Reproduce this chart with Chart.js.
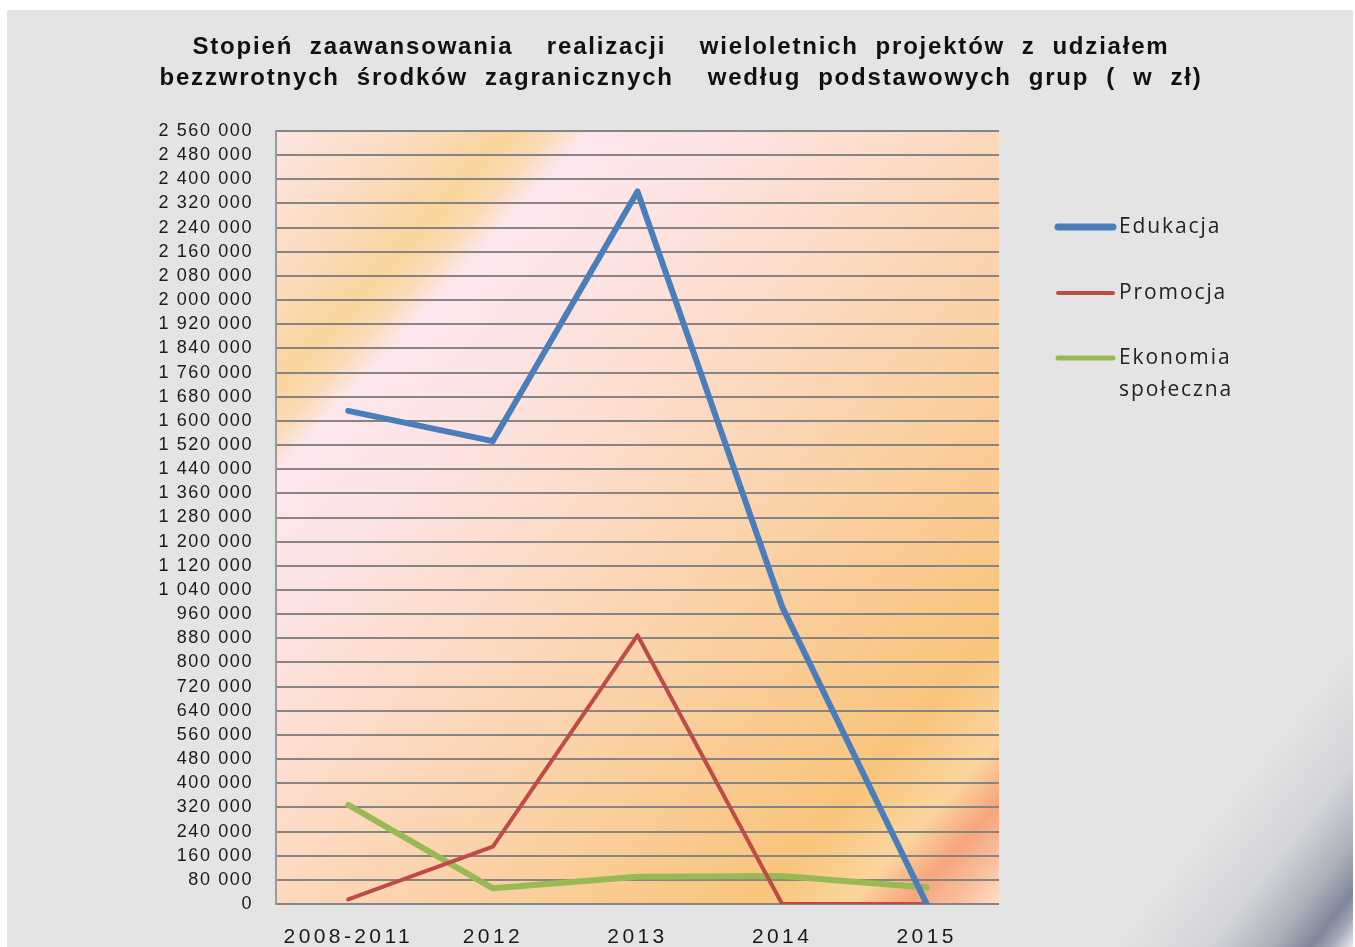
<!DOCTYPE html>
<html>
<head>
<meta charset="utf-8">
<script src="https://cdn.jsdelivr.net/npm/chart.js@4.4.0/dist/chart.umd.min.js"></script>
<style>
  html, body { margin: 0; padding: 0; background: #fff; overflow: hidden; }
  #chart { display: block; }
</style>
</head>
<body>
<canvas id="chart" width="1355" height="947"></canvas>
<script>
// data
const categories = ['2008-2011', '2012', '2013', '2014', '2015'];
const edukacja = [1633000, 1533000, 2360000, 985000, 0];
const promocja = [15000, 190000, 890000, 0, 0];
const ekonomia = [328000, 52000, 90000, 93000, 55000];
const yMax = 2560000;
const yStep = 80000;
const titleLines = [
  'Stopień zaawansowania  realizacji  wieloletnich projektów z udziałem',
  'bezzwrotnych środków zagranicznych  według podstawowych grup ( w zł)'
];

const fmt = v => String(v).replace(/\B(?=(\d{3})+(?!\d))/g, ' ');

// stretch a line to a given width: some letter spacing, the rest between words
function spacedText(ctx, text, cx, cy, targetW) {
  ctx.letterSpacing = '1.8px';
  ctx.wordSpacing = '0px';
  const w = ctx.measureText(text).width;
  const gaps = text.split(' ').length - 1;
  ctx.wordSpacing = Math.max(0, (targetW - w) / gaps) + 'px';
  ctx.textAlign = 'left';
  ctx.fillText(text, cx - targetW / 2, cy);
  ctx.letterSpacing = '0px';
  ctx.wordSpacing = '0px';
}

const decor = {
  id: 'decor',
  beforeDraw(chart) {
    const ctx = chart.ctx;
    const a = chart.chartArea;
    ctx.save();
    ctx.fillStyle = '#ffffff';
    ctx.fillRect(0, 0, chart.width, chart.height);
    ctx.fillStyle = '#e4e4e4';
    ctx.fillRect(7, 10, 1346, 937);

    // dark swoosh in the lower right corner
    const s = ctx.createLinearGradient(1190, 846, 1340, 965);
    s.addColorStop(0, '#e4e4e4');
    s.addColorStop(0.4, '#d3d5d9');
    s.addColorStop(0.65, '#adb1bb');
    s.addColorStop(0.82, '#7f879a');
    s.addColorStop(0.9, '#a3a8b6');
    s.addColorStop(1, '#eeeef2');
    ctx.fillStyle = s;
    ctx.fillRect(1010, 500, 343, 447);

    // plot area background
    const k = 2.696;
    const g = ctx.createLinearGradient(a.left, a.top, a.left + 289 * k, a.top + 264 * k);
    g.addColorStop(0, '#fde6e2');
    g.addColorStop(0.09, '#fbdcc2');
    g.addColorStop(0.165, '#fad59c');
    g.addColorStop(0.195, '#fbdcb8');
    g.addColorStop(0.22, '#fde7ee');
    g.addColorStop(0.32, '#fde3e2');
    g.addColorStop(0.5, '#fcd8bc');
    g.addColorStop(0.68, '#facd98');
    g.addColorStop(0.83, '#f9c57c');
    g.addColorStop(0.895, '#fbd59e');
    g.addColorStop(0.935, '#f7a57d');
    g.addColorStop(0.97, '#f9c0a0');
    g.addColorStop(1, '#fde0c6');
    ctx.fillStyle = g;
    ctx.fillRect(a.left, a.top, a.right - a.left, a.bottom - a.top);
    ctx.restore();

    // y tick labels are drawn before the datasets
    ctx.letterSpacing = '1.6px';
  },
  afterDatasetsDraw(chart) {
    // x tick labels are drawn after the datasets
    chart.ctx.letterSpacing = '3.4px';
  },
  afterDraw(chart) {
    const ctx = chart.ctx;
    ctx.save();
    ctx.letterSpacing = '0px';
    ctx.fillStyle = '#111';
    ctx.textBaseline = 'middle';
    ctx.font = 'bold 24px "Liberation Sans", Arial, sans-serif';
    spacedText(ctx, titleLines[0], 681, 47, 977);
    spacedText(ctx, titleLines[1], 681, 78, 1043);

    // legend
    const rows = [227, 293, 358];
    ctx.font = '21px "Open Sans", sans-serif';
    ctx.letterSpacing = '1.9px';
    ctx.textAlign = 'left';
    chart.data.datasets.forEach((ds, i) => {
      const y = rows[i];
      ctx.strokeStyle = ds.borderColor;
      ctx.lineWidth = ds.legendWidth;
      ctx.lineCap = 'round';
      ctx.beginPath();
      ctx.moveTo(1058, y);
      ctx.lineTo(1113, y);
      ctx.stroke();
      ctx.fillStyle = '#222';
      const words = ds.label.split(' ');
      words.forEach((w, j) => ctx.fillText(w, 1119, y + j * 32));
    });
    ctx.restore();
  }
};

new Chart(document.getElementById('chart'), {
  type: 'line',
  data: {
    labels: categories,
    datasets: [
      { label: 'Edukacja', data: edukacja, borderColor: '#4a7ebb', borderWidth: 6, legendWidth: 7 },
      { label: 'Promocja', data: promocja, borderColor: '#be4b48', borderWidth: 4, legendWidth: 4 },
      { label: 'Ekonomia społeczna', data: ekonomia, borderColor: '#98b954', borderWidth: 6, legendWidth: 5 }
    ].map(d => Object.assign(d, {
      pointRadius: 0,
      pointHoverRadius: 0,
      tension: 0,
      fill: false,
      borderCapStyle: 'round',
      borderJoinStyle: 'round'
    }))
  },
  options: {
    responsive: false,
    animation: false,
    devicePixelRatio: 1,
    events: [],
    layout: { padding: { top: 131, right: 356, bottom: 0, left: 0 } },
    plugins: {
      legend: { display: false },
      title: { display: false },
      tooltip: { enabled: false }
    },
    scales: {
      x: {
        offset: true,
        grid: { display: false, drawTicks: false },
        border: { display: false },
        ticks: {
          z: 1,
          padding: 21,
          color: '#1a1a1a',
          font: { family: '"Liberation Sans", Arial, sans-serif', size: 21 },
          maxRotation: 0,
          autoSkip: false
        },
        afterFit(s) { s.height = 43; }
      },
      y: {
        min: 0,
        max: yMax,
        grid: { color: '#858585', lineWidth: 2, drawTicks: false },
        border: { display: true, color: '#9a9a9a', width: 2 },
        ticks: {
          stepSize: yStep,
          padding: 23,
          color: '#1a1a1a',
          font: { family: '"Liberation Sans", Arial, sans-serif', size: 18 },
          callback: v => fmt(v),
          autoSkip: false
        },
        afterFit(s) { s.width = 276; }
      }
    }
  },
  plugins: [decor]
});
</script>
</body>
</html>
